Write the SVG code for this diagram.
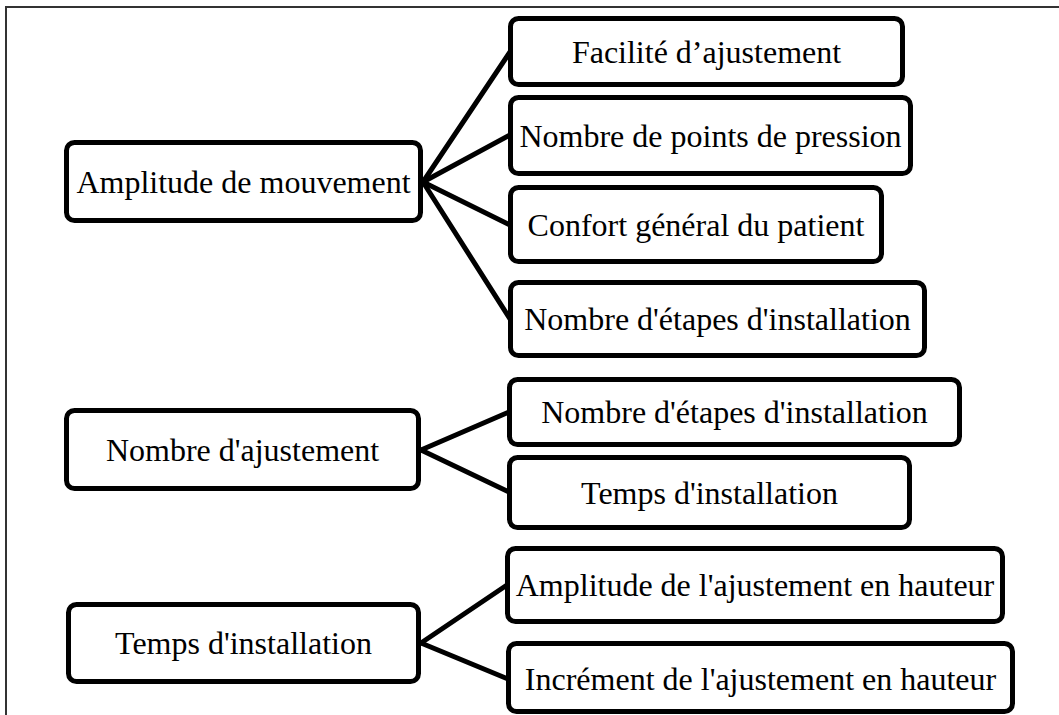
<svg xmlns="http://www.w3.org/2000/svg" width="1059" height="715" viewBox="0 0 1059 715">
<style>
.box{fill:#fff;stroke:#000;stroke-width:5}
.lbl{font-size:32px;fill:#000;text-anchor:middle}
.con{stroke:#000;stroke-width:5;fill:none;stroke-linecap:round}
.frame{stroke:#333;stroke-width:2;fill:none}
</style>
<rect width="1059" height="715" fill="#fff"/>
<path class="frame" d="M6,715 V7 H1059"/>
<g id="connectors">
<line class="con" x1="423" y1="182" x2="510" y2="52"/>
<line class="con" x1="423" y1="182" x2="510" y2="135"/>
<line class="con" x1="423" y1="182" x2="510" y2="225"/>
<line class="con" x1="423" y1="182" x2="510" y2="319"/>
<line class="con" x1="421" y1="450" x2="509" y2="412"/>
<line class="con" x1="421" y1="450" x2="509" y2="492"/>
<line class="con" x1="421" y1="643" x2="507" y2="585"/>
<line class="con" x1="421" y1="643" x2="508" y2="679"/>
</g>
<g font-family="'Liberation Serif', 'Times New Roman', Times, serif">
<g id="n-amplitude-mouvement">
<rect class="box" x="66.5" y="142.5" width="354" height="78" rx="8"/>
<text class="lbl" x="243.5" y="192.5">Amplitude de mouvement</text>
</g>
<g id="n-facilite">
<rect class="box" x="510.5" y="18.5" width="392" height="66" rx="8"/>
<text class="lbl" x="706.5" y="62.5">Facilité d’ajustement</text>
</g>
<g id="n-points-pression">
<rect class="box" x="510.5" y="97.5" width="400" height="76" rx="8"/>
<text class="lbl" x="710.5" y="146.5">Nombre de points de pression</text>
</g>
<g id="n-confort">
<rect class="box" x="510.5" y="187.5" width="371" height="74" rx="8"/>
<text class="lbl" x="696" y="235.5">Confort général du patient</text>
</g>
<g id="n-etapes-1">
<rect class="box" x="510.5" y="282.5" width="414" height="73" rx="8"/>
<text class="lbl" x="717.5" y="330">Nombre d'étapes d'installation</text>
</g>
<g id="n-nombre-ajustement">
<rect class="box" x="66.5" y="410.5" width="352" height="78" rx="8"/>
<text class="lbl" x="242.5" y="460.5">Nombre d'ajustement</text>
</g>
<g id="n-etapes-2">
<rect class="box" x="509.5" y="379.5" width="450" height="65" rx="8"/>
<text class="lbl" x="734.5" y="422.5">Nombre d'étapes d'installation</text>
</g>
<g id="n-temps-2">
<rect class="box" x="509.5" y="457.5" width="400" height="70" rx="8"/>
<text class="lbl" x="709.5" y="503.5">Temps d'installation</text>
</g>
<g id="n-temps-installation">
<rect class="box" x="68.5" y="604.5" width="350" height="77" rx="8"/>
<text class="lbl" x="243.5" y="653.5">Temps d'installation</text>
</g>
<g id="n-amplitude-hauteur">
<rect class="box" x="507.5" y="548.5" width="495" height="73" rx="8"/>
<text class="lbl" x="755" y="596">Amplitude de l'ajustement en hauteur</text>
</g>
<g id="n-increment">
<rect class="box" x="508.5" y="643.5" width="504" height="68" rx="8"/>
<text class="lbl" x="760.5" y="689.5">Incrément de l'ajustement en hauteur</text>
</g>
</g>
</svg>
